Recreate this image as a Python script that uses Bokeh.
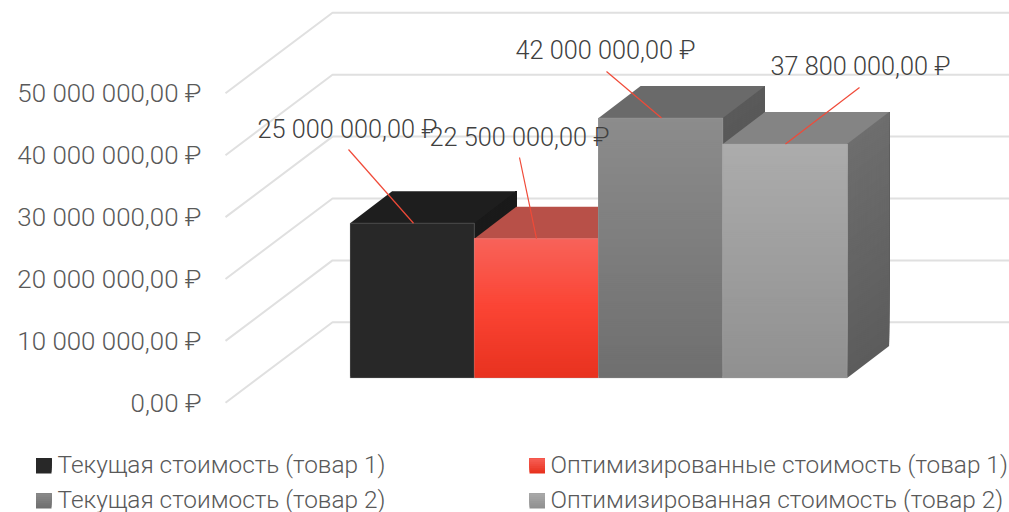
from bokeh.plotting import figure
from bokeh.layouts import column
from bokeh.models import Range1d, FixedTicker, LinearAxis
from bokeh.core.properties import value
from bokeh.embed import file_html
from bokeh.resources import INLINE

# ---- data
series_names = ["Текущая стоимость (товар 1)", "Оптимизированные стоимость (товар 1)",
                "Текущая стоимость (товар 2)", "Оптимизированная стоимость (товар 2)"]
series_values = [25000000, 22500000, 42000000, 37800000]
value_labels = ["25 000 000,00 ₽", "22 500 000,00 ₽", "42 000 000,00 ₽", "37 800 000,00 ₽"]
tick_values = [0, 10000000, 20000000, 30000000, 40000000, 50000000]
tick_labels = ["0,00 ₽", "10 000 000,00 ₽", "20 000 000,00 ₽", "30 000 000,00 ₽",
               "40 000 000,00 ₽", "50 000 000,00 ₽"]

# ---- styles
front_stops = [["#282828", "#282828"], ["#f8635a", "#fb4434", "#e8321f"],
               ["#8c8c8c", "#6f6f6f"], ["#acacac", "#909090"]]
top_colors = ["#1e1e1e", "#b85048", "#6a6a6a", "#848484"]
side_stops = [["#1a1a1a", "#1a1a1a"], ["#a03c34", "#a03c34"], ["#5a5a5a", "#505050"], ["#6e6e6e", "#5c5c5c"]]
legend_stops = [["#282828", "#282828"], ["#f8635a", "#e8321f"], ["#8c8c8c", "#6f6f6f"], ["#acacac", "#909090"]]
FONT = "Roboto Light"
AXIS_COLOR = "#595959"
LABEL_COLOR = "#404040"
GRID_COLOR = "#e0e0e0"
LEADER_COLOR = "#f04a38"
TICK_SIZE = "25.9px"
LABEL_SIZE = "25.3px"
LEGEND_SIZE = "24.4px"

# ---- layout (screen pixels)
PAGE = 0
WIDTH, CHART_H, LEGEND_H = 1009, 430, 82
FRAME_LEFT = 208
PX_PER_UNIT = 6.19e-6
ZERO_PX = 402.3
WALL_X0, WALL_X1, WALL_RISE = 225, 332, 80.5
BAR_X0, BAR_W = 349.6, 124.25
BAR_LIFT, DEPTH_X, DEPTH_Y = 24.8, 42, 32
label_pos = [(257, 129), (429, 137), (515, 50), (770, 66)]
leader_start = [(348, 149), (519, 157), (606, 71), (859, 87)]
leader_end_x = [413, 536, 661, 785]


def up(px):
    return px / PX_PER_UNIT


def hex_rgb(c):
    return tuple(int(c[i:i + 2], 16) for i in (1, 3, 5))


def ramp(stops, t):
    pos = t * (len(stops) - 1)
    i = min(int(pos), len(stops) - 2)
    f = pos - i
    a, b = hex_rgb(stops[i]), hex_rgb(stops[i + 1])
    return "#%02x%02x%02x" % tuple(round(a[k] + (b[k] - a[k]) * f) for k in range(3))


y0 = (ZERO_PX - (PAGE + CHART_H)) / PX_PER_UNIT
y1 = (ZERO_PX - PAGE) / PX_PER_UNIT
p = figure(width=WIDTH, height=CHART_H, output_backend="svg", toolbar_location=None,
           x_range=Range1d(FRAME_LEFT, PAGE + WIDTH), y_range=Range1d(y0, y1),
           x_axis_location=None, y_axis_location=None,
           min_border_left=FRAME_LEFT - PAGE, min_border_right=0, min_border_top=0, min_border_bottom=0,
           outline_line_color=None)
p.grid.visible = False
p.frame_align = False

axis = LinearAxis(ticker=FixedTicker(ticks=tick_values),
                  major_label_overrides={int(v): t for v, t in zip(tick_values, tick_labels)})
axis.axis_line_color = None
axis.major_tick_line_color = None
axis.minor_tick_line_color = None
axis.major_label_standoff = 1
axis.major_label_text_font = FONT
axis.major_label_text_font_size = TICK_SIZE
axis.major_label_text_color = AXIS_COLOR
p.add_layout(axis, "left")

# walls
p.multi_line([[WALL_X0, WALL_X1, PAGE + WIDTH] for _ in tick_values],
             [[v, v + up(WALL_RISE), v + up(WALL_RISE)] for v in tick_values],
             line_color=GRID_COLOR, line_width=2)

# bars
for i, v in enumerate(series_values):
    xl, xr = BAR_X0 + i * BAR_W, BAR_X0 + (i + 1) * BAR_W
    base = up(BAR_LIFT)
    top = v + base
    n = max(2, int((v * PX_PER_UNIT) / 2))
    bottoms = [base + (top - base) * k / n for k in range(n)]
    # side face
    p.patches([[xr, xr + DEPTH_X, xr + DEPTH_X, xr] for _ in bottoms],
              [[b, b + up(DEPTH_Y), top + up(DEPTH_Y), top] for b in bottoms],
              fill_color=[ramp(side_stops[i], 1 - k / n) for k in range(n)], line_color=None)
    # top face
    p.patch([xl, xl + DEPTH_X, xr + DEPTH_X, xr],
            [top, top + up(DEPTH_Y), top + up(DEPTH_Y), top],
            fill_color=top_colors[i], line_color=None)
    # front face
    p.quad(left=[xl] * n, right=[xr] * n, bottom=bottoms, top=[top] * n,
           fill_color=[ramp(front_stops[i], 1 - k / n) for k in range(n)], line_color=None)
    p.line([xl, xl, xr, xr, xl], [base, top, top, base, base], line_color="#a8a8a8", line_alpha=0.3, line_width=1)

# leaders and value labels
for i, v in enumerate(series_values):
    sx, sy = leader_start[i]
    p.line([sx, leader_end_x[i]], [(ZERO_PX - sy) / PX_PER_UNIT, v + up(BAR_LIFT)],
           line_color=LEADER_COLOR, line_width=1.2)
p.text([q[0] for q in label_pos], [(ZERO_PX - q[1]) / PX_PER_UNIT for q in label_pos], text=value_labels,
       text_font=value(FONT), text_font_size=LABEL_SIZE, text_color=LABEL_COLOR,
       text_align="left", text_baseline="middle")

# legend
lg = figure(width=WIDTH, height=LEGEND_H, output_backend="svg", toolbar_location=None,
            x_range=Range1d(PAGE, PAGE + WIDTH), y_range=Range1d(PAGE + CHART_H + LEGEND_H, PAGE + CHART_H),
            x_axis_location=None, y_axis_location=None,
            min_border=0, outline_line_color=None)
lg.grid.visible = False
lg.frame_align = False
swatch_x = [35.5, 529, 35.5, 529]
text_x = [57, 550, 57, 550]
row_y = [465.5, 465.5, 500.5, 500.5]
text_y = [463.5, 463.5, 498.5, 498.5]
for i, name in enumerate(series_names):
    n = 8
    yb = row_y[i] + 7.5
    yt = row_y[i] - 7.5
    bottoms = [yb + (yt - yb) * k / n for k in range(n)]
    lg.quad(left=[swatch_x[i]] * n, right=[swatch_x[i] + 15.5] * n, bottom=bottoms, top=[yt] * n,
            fill_color=[ramp(legend_stops[i], 1 - k / n) for k in range(n)], line_color=None)
lg.text(text_x, text_y, text=series_names, text_font=value(FONT), text_font_size=LEGEND_SIZE,
        text_color=AXIS_COLOR, text_align="left", text_baseline="middle")

page = column(p, lg, spacing=0)
open("out.html", "w").write(file_html(page, INLINE))
